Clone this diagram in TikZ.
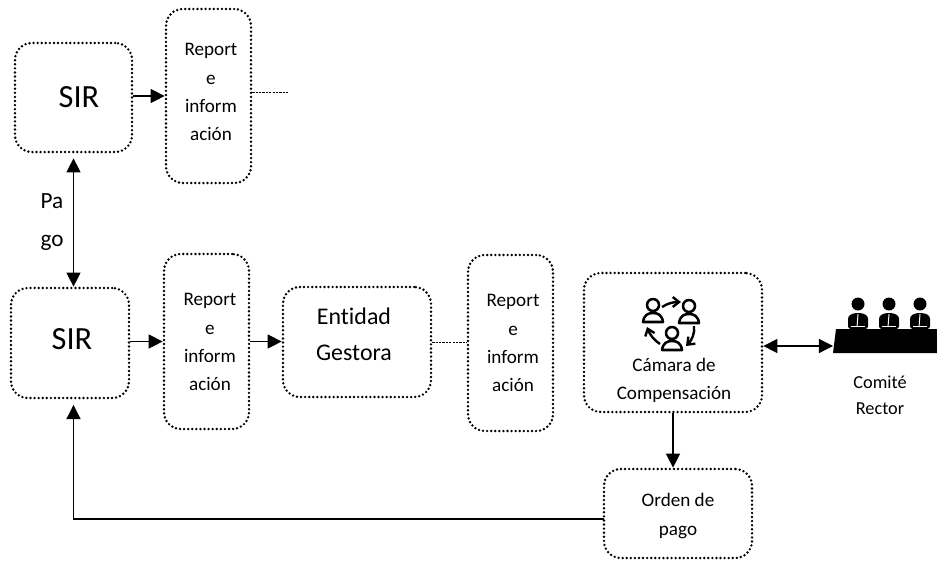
\documentclass[tikz,border=0pt]{standalone}
\usepackage{fontspec}
\setmainfont[RawFeature=-liga]{Carlito}
\usetikzlibrary{arrows.meta}
\newcommand{\reporttxt}{Report\\e\\inform\\ación}
\tikzset{
  boxdot/.style={draw,rounded corners=12pt,line width=1.9pt,line cap=round,dash pattern=on 0pt off 2.9pt,inner sep=0pt},
  txt/.style={align=center,font=\fontsize{13.6}{20}\selectfont,inner sep=0pt},
  big/.style={align=center,inner sep=0pt},
  conn/.style={line width=.8pt,-{Triangle[length=10pt,width=10pt]}},
  conn2/.style={line width=.8pt,{Triangle[length=10pt,width=10pt]}-{Triangle[length=10pt,width=10pt]}},
  thin dash/.style={line width=.6pt,dash pattern=on 1.6pt off .8pt},
  ringline/.style={line width=1.8pt,line join=round},
  ringarrow/.style={line width=1.7pt,-{Straight Barb[length=4.5pt,width=7pt]}}
}
\begin{document}
\begin{tikzpicture}[x=0.025cm,y=-0.025cm]
        \useasboundingbox (0,0) rectangle (937,560);
        % Top row
        \node[boxdot,minimum width=2.925cm,minimum height=2.725cm] (sira) at (73.5,97.5) {};
        \node[big,font=\fontsize{23}{27}\selectfont] (siratxt) at (79,97) {SIR};
        \node[boxdot,minimum width=2.125cm,minimum height=4.35cm] (repa) at (208.5,96) {};
        \node[txt] (repatxt) at (211,92) {\reporttxt};
        \coordinate (repafin) at (289,92);

        % Middle row
        \node[boxdot,minimum width=2.95cm,minimum height=2.75cm] (sirb) at (70,343) {};
        \node[big,font=\fontsize{23}{27}\selectfont] (sirbtxt) at (72,339) {SIR};
        \node[boxdot,minimum width=2.125cm,minimum height=4.375cm] (repb) at (206.5,341.5) {};
        \node[txt] (repbtxt) at (210,342) {\reporttxt};
        \node[boxdot,minimum width=3.7cm,minimum height=2.75cm] (ent) at (357,342) {};
        \node[big,font=\fontsize{17}{25.5}\selectfont] (enttxt) at (354,334) {Entidad\\Gestora};
        \node[boxdot,minimum width=2.125cm,minimum height=4.4cm] (repc) at (510.5,343) {};
        \node[txt] (repctxt) at (513,343) {\reporttxt};
        \node[boxdot,minimum width=4.45cm,minimum height=3.475cm] (cam) at (673,342.5) {};
        \node[txt] (camtxt) at (674,380) {Cámara de\\Compensación};
        \node[boxdot,minimum width=3.7cm,minimum height=2.225cm] (orden) at (678,513.5) {};
        \node[txt] (ordentxt) at (678,516) {Orden de\\pago};
        \node[txt,font=\fontsize{13}{18.5}\selectfont] (comite) at (880,395) {Comité\\Rector};
        \node[big,font=\fontsize{16.5}{27.6}\selectfont] (pago) at (52,222) {Pa\\go};

        \coordinate (mesa) at (833,346);
        \coordinate (ordenin) at (604,519);

        % Connectors
        \draw[conn] (sira.east |- repa.west) -- (repa.west);
        \draw[thin dash] (repa.east |- repafin) -- (repafin);
        \draw[conn2] (sira.south) ++(0,5) -- (sirb.north -| sira.south);
        \draw[conn] (sirb.east |- repb.west) -- (repb.west);
        \draw[conn] (repb.east) -- (ent.west |- repb.east);
        \draw[thin dash] (ent.east) -- (repc.west |- ent.east);
        \draw[conn2] (cam.east |- mesa) -- (mesa);
        \draw[conn] (cam.south) -- (cam.south |- orden.north);
        \draw[conn,shorten >=4pt] (ordenin) -| (sira.south |- sirb.south);

        % Comite: table and people
        \fill (836,329) -- (937,329) -- (937,353) -- (833,353) -- cycle;
        \foreach \px in {858,889,920} {
            \fill (\px,304) circle (6.5);
            \fill[rounded corners=2pt] (\px-10,329) -- (\px-10,316) -- (\px-4,313) -- (\px+4,313) -- (\px+10,316) -- (\px+10,329) -- cycle;
            \draw[white,line width=.7pt] (\px,314) -- (\px-1,327);
            \draw[white,line width=.5pt] (\px-7,326) -- (\px+7,326);
        }

        % Camara: people in a ring
        \foreach \px/\py in {653/305,689/306,672/333} {
            \draw[ringline] (\px,\py) circle (6);
            \draw[ringline] (\px-10,\py+17) .. controls (\px-9,\py+10) and (\px-5,\py+8) .. (\px,\py+8) .. controls (\px+5,\py+8) and (\px+9,\py+10) .. (\px+10,\py+17) -- cycle;
        }
        \draw[ringarrow] (662,307) .. controls (668,303) and (674,302) .. (681,302);
        \draw[ringarrow] (694,326) .. controls (695,333) and (692,340) .. (686,346);
        \draw[ringarrow] (660,344) .. controls (654,340) and (650,335) .. (647,327);
\end{tikzpicture}
\end{document}
